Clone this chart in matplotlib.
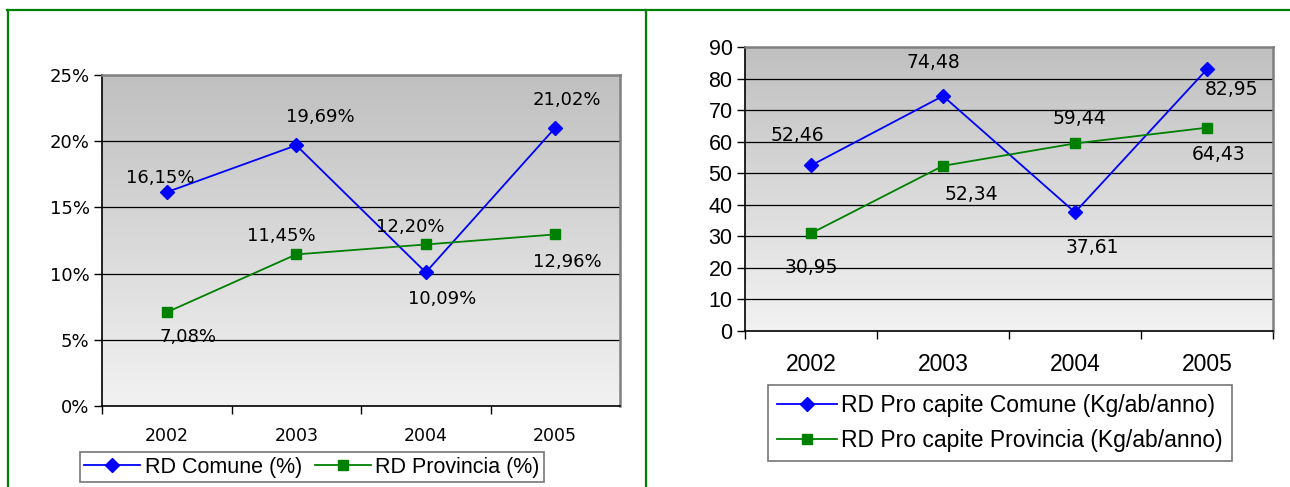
import numpy as np
import matplotlib
matplotlib.use("Agg")
import matplotlib.pyplot as plt
from matplotlib.lines import Line2D
from matplotlib.colors import LinearSegmentedColormap

years = ["2002", "2003", "2004", "2005"]
rd_comune_pct = [16.15, 19.69, 10.09, 21.02]
rd_provincia_pct = [7.08, 11.45, 12.20, 12.96]
pc_comune = [52.46, 74.48, 37.61, 82.95]
pc_provincia = [30.95, 52.34, 59.44, 64.43]

left_labels_comune = ["16,15%", "19,69%", "10,09%", "21,02%"]
left_labels_prov = ["7,08%", "11,45%", "12,20%", "12,96%"]
right_labels_comune = ["52,46", "74,48", "37,61", "82,95"]
right_labels_prov = ["30,95", "52,34", "59,44", "64,43"]

W, H = 1290, 487
fig = plt.figure(figsize=(W / 100, H / 100), dpi=100)

def fx(x):
    return x / W

def fy(y):
    return 1 - y / H

# green frame
GREEN = "#008000"
fig.add_artist(Line2D([fx(7), fx(1290)], [fy(10), fy(10)], color=GREEN, lw=1.6, transform=fig.transFigure))
fig.add_artist(Line2D([fx(7.5), fx(7.5)], [fy(10), fy(487)], color=GREEN, lw=1.6, transform=fig.transFigure))
fig.add_artist(Line2D([fx(646), fx(646)], [fy(10), fy(487)], color=GREEN, lw=1.6, transform=fig.transFigure))

grad = np.linspace(0, 1, 256).reshape(-1, 1)
cmap = LinearSegmentedColormap.from_list("g", ["#c0c0c0", "#f2f2f2"])


def setup(ax, ymax, ystep, xr_tick, xpad):
    x = np.arange(len(years))
    ax.imshow(grad, extent=(-0.5, len(years) - 0.5, 0, ymax), aspect="auto",
              cmap=cmap, zorder=0, origin="upper")
    ax.set_xlim(-0.5, len(years) - 0.5)
    ax.set_ylim(0, ymax)
    ax.set_yticks(np.arange(0, ymax + ystep / 2, ystep))
    for yv in np.arange(ystep, ymax, ystep):
        ax.axhline(yv, color="black", lw=0.9, zorder=1)
    ax.set_xticks(x)
    ax.set_xticklabels(years)
    ax.tick_params(axis="x", which="major", length=0, pad=xpad)
    minor = list(np.arange(-0.5, len(years) - 0.5, 1.0))
    if xr_tick:
        minor.append(len(years) - 0.5)
    ax.set_xticks(minor, minor=True)
    ax.tick_params(axis="x", which="minor", length=6, width=1, direction="out")
    ax.tick_params(axis="y", length=6, width=1, direction="out", pad=3)
    for s in ["left", "bottom"]:
        ax.spines[s].set_color("black")
        ax.spines[s].set_linewidth(1.2)
    for s in ["top", "right"]:
        ax.spines[s].set_color("#808080")
        ax.spines[s].set_linewidth(1.8)
    return x


# ---------- left chart ----------
axL = fig.add_axes([fx(102), fy(406), fx(518), 331 / H])
x = setup(axL, 25, 5, False, 15)
axL.set_yticklabels([f"{v}%" for v in range(0, 26, 5)], fontsize=13, family="DejaVu Sans")
for t in axL.get_xticklabels():
    t.set_fontsize(12.5)
    t.set_family("DejaVu Sans")
lc, = axL.plot(x, rd_comune_pct, color="#0000ff", lw=1.3, marker="D", ms=7.5, zorder=3,
               label="RD Comune (%)")
lp, = axL.plot(x, rd_provincia_pct, color="#008000", lw=1.3, marker="s", ms=7, zorder=3,
               label="RD Provincia (%)")
offL_c = [(-7, 14), (24, 28), (16, -27), (12, 28)]
offL_p = [(21, -25), (-15, 18), (-16, 17), (12, -28)]
for i in range(4):
    axL.annotate(left_labels_comune[i], (x[i], rd_comune_pct[i]), xytext=offL_c[i],
                 textcoords="offset pixels", ha="center", va="center", fontsize=13,
                 family="DejaVu Sans", zorder=4)
    axL.annotate(left_labels_prov[i], (x[i], rd_provincia_pct[i]), xytext=offL_p[i],
                 textcoords="offset pixels", ha="center", va="center", fontsize=13,
                 family="DejaVu Sans", zorder=4)
legL = fig.legend(handles=[lc, lp], loc="center", bbox_to_anchor=(fx(312), fy(467)),
                  ncol=2, frameon=True, fancybox=False, edgecolor="#555555",
                  prop={"family": "Liberation Sans", "size": 15.5},
                  handlelength=2.6, handletextpad=0.2, columnspacing=0.6,
                  borderpad=0.2, borderaxespad=0)
legL.get_frame().set_linewidth(1.2)

# ---------- right chart ----------
axR = fig.add_axes([fx(745), fy(331), fx(528), 284 / H])
x = setup(axR, 90, 10, True, 16)
axR.set_yticklabels([str(v) for v in range(0, 91, 10)], fontsize=15.5, family="Liberation Sans")
for t in axR.get_xticklabels():
    t.set_fontsize(16.5)
    t.set_family("Liberation Sans")
rc, = axR.plot(x, pc_comune, color="#0000ff", lw=1.3, marker="D", ms=7.5, zorder=3,
               label="RD Pro capite Comune (Kg/ab/anno)")
rp, = axR.plot(x, pc_provincia, color="#008000", lw=1.3, marker="s", ms=7, zorder=3,
               label="RD Pro capite Provincia (Kg/ab/anno)")
offR_c = [(-14, 30), (-10, 33), (17, -35), (25, -20)]
offR_p = [(0, -34), (28, -29), (4, 25), (12, -27)]
for i in range(4):
    axR.annotate(right_labels_comune[i], (x[i], pc_comune[i]), xytext=offR_c[i],
                 textcoords="offset pixels", ha="center", va="center", fontsize=13.5,
                 family="DejaVu Sans", zorder=4)
    axR.annotate(right_labels_prov[i], (x[i], pc_provincia[i]), xytext=offR_p[i],
                 textcoords="offset pixels", ha="center", va="center", fontsize=13.5,
                 family="DejaVu Sans", zorder=4)
legR = fig.legend(handles=[rc, rp], loc="center", bbox_to_anchor=(fx(1000), fy(423)),
                  ncol=1, frameon=True, fancybox=False, edgecolor="#555555",
                  prop={"family": "Liberation Sans", "size": 16.5},
                  handlelength=2.6, handletextpad=0.2, labelspacing=0.55,
                  borderpad=0.4, borderaxespad=0)
legR.get_frame().set_linewidth(1.2)

fig.savefig("out.png", dpi=100, facecolor="white")
